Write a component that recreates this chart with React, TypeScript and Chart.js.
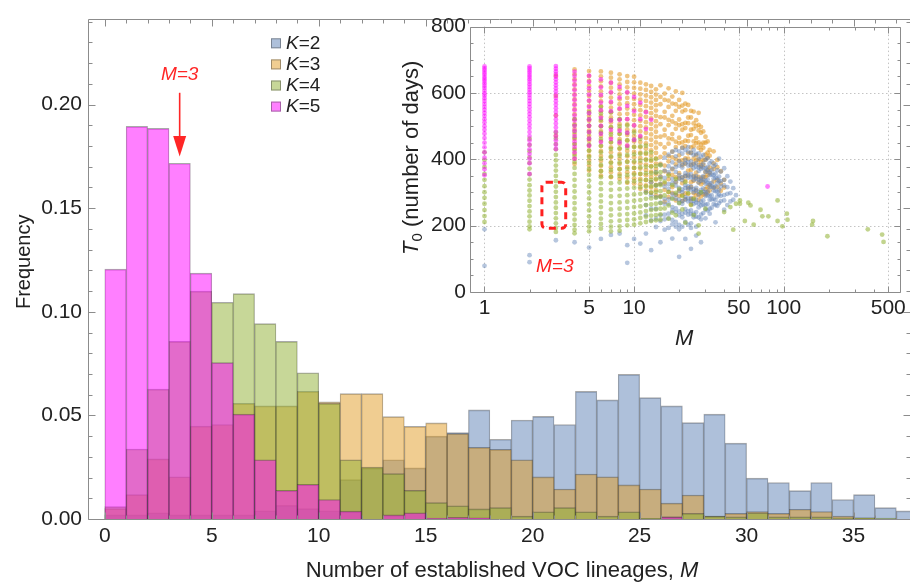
import React, { useEffect, useRef } from 'react';
import { Chart, registerables } from 'chart.js';

Chart.register(...registerables);

const FONT = '"Liberation Sans", Arial, Helvetica, sans-serif';

// ---------- Main histogram data (bin [M, M+1)) ----------
const binStarts = [0, 1, 2, 3, 4, 5, 6, 7, 8, 9, 10, 11, 12, 13, 14, 15, 16, 17, 18, 19, 20, 21, 22, 23, 24, 25, 26, 27, 28, 29, 30, 31, 32, 33, 34, 35, 36, 37];
const freqK2 = [0.002, 0.002, 0.003, 0.002, 0.002, 0.002, 0.002, 0.004, 0.0066, 0.005, 0.004, 0.019, 0.0245, 0.0286, 0.0247, 0.040, 0.0417, 0.0527, 0.0385, 0.0478, 0.0495, 0.0456, 0.0616, 0.0575, 0.0698, 0.0586, 0.0546, 0.0465, 0.0506, 0.0366, 0.0197, 0.0176, 0.0137, 0.0176, 0.0094, 0.0118, 0.0055, 0.0039];
const freqK3 = [0.005, 0.0118, 0.029, 0.0204, 0.0448, 0.0456, 0.0558, 0.0546, 0.0546, 0.0616, 0.0566, 0.0605, 0.0605, 0.0494, 0.0447, 0.0464, 0.0412, 0.0346, 0.0336, 0.0286, 0.0203, 0.0145, 0.0217, 0.0204, 0.0165, 0.0145, 0.0077, 0.0116, 0.0014, 0.0027, 0.0036, 0.0027, 0.0047, 0.0036, 0.0014, 0.0006, 0, 0];
const freqK4 = [0.006, 0.0338, 0.0627, 0.0857, 0.110, 0.1046, 0.1088, 0.0943, 0.0857, 0.0706, 0.0558, 0.0286, 0.025, 0.0219, 0.0138, 0.0079, 0.0064, 0.0049, 0.0055, 0.0014, 0.0035, 0.0055, 0.0035, 0.0014, 0.0035, 0.0003, 0.001, 0.0027, 0.0014, 0.001, 0.003, 0.001, 0.001, 0.001, 0.0005, 0.0006, 0.0005, 0];
const freqK5 = [0.1206, 0.1895, 0.1885, 0.1717, 0.1187, 0.0755, 0.0506, 0.0286, 0.0138, 0.0167, 0.0094, 0.0038, 0, 0.002, 0.003, 0.0005, 0.0008, 0.0006, 0, 0, 0, 0, 0, 0, 0, 0, 0.001, 0, 0, 0, 0, 0, 0, 0, 0, 0, 0, 0];

const seriesLabels = ['K=2', 'K=3', 'K=4', 'K=5'];
const barColors = ['rgba(94,129,181,0.5)', 'rgba(225,156,36,0.5)', 'rgba(143,176,50,0.5)', 'rgba(255,0,255,0.5)'];
const pointColors = ['rgba(94,129,181,0.45)', 'rgba(225,150,30,0.55)', 'rgba(143,176,50,0.55)', 'rgba(255,0,255,0.5)'];
const pointOrder = [3, 4, 2, 1];

const mainXTicks = [0, 5, 10, 15, 20, 25, 30, 35];
const mainYTicks = [0, 0.05, 0.1, 0.15, 0.2];
const mainXRange = [-0.785, 37.64];
const mainYRange = [0, 0.2415];

// annotation anchors (data units)
const mainNoteM = 3.5;
const mainNoteTextY = 0.2146;
const mainArrowTailY = 0.2057;
const mainArrowBaseY = 0.1849;
const mainArrowTipY = 0.175;

// ---------- Inset scatter data: [M, T0 values] ----------
const insetK2: [number, number[]][] = [
  [1, [189, 79]], [2, [111, 90]], [3, [156]], [4, [150]], [5, [134]], [6, [160]], [7, [172]], [8, [176]], [9, [88, 141]], [10, [160]], [11, [146]],
  [12, [301, 262, 231, 176]],
  [13, [331, 291, 251, 216, 126]],
  [14, [361, 321, 286, 251, 221, 196]],
  [15, [383, 347, 326, 288, 269, 231, 214, 150]],
  [16, [405, 366, 344, 318, 281, 266, 233, 219, 188]],
  [17, [414, 379, 361, 325, 311, 279, 266, 236, 222, 193]],
  [18, [423, 391, 372, 341, 328, 296, 284, 256, 245, 217, 204, 161]],
  [19, [428, 409, 377, 362, 333, 321, 293, 281, 252, 241, 211, 197]],
  [20, [424, 394, 381, 352, 341, 314, 304, 278, 269, 243, 231, 202, 189, 106]],
  [21, [434, 417, 386, 375, 346, 337, 309, 301, 274, 266, 236, 225, 197]],
  [22, [428, 398, 388, 358, 349, 322, 313, 286, 278, 250, 239, 211, 160]],
  [23, [437, 423, 392, 381, 354, 345, 318, 309, 282, 273, 244, 233, 203]],
  [24, [419, 393, 381, 355, 345, 318, 309, 283, 273, 246, 235, 207, 193, 130]],
  [25, [428, 413, 385, 373, 347, 337, 310, 301, 275, 265, 236, 225]],
  [26, [416, 389, 377, 350, 341, 314, 305, 278, 269, 241, 227, 197, 170]],
  [27, [418, 402, 376, 365, 339, 329, 302, 293, 267, 255, 225]],
  [28, [408, 381, 371, 345, 335, 308, 299, 273, 261, 233, 219, 150]],
  [29, [413, 387, 374, 349, 337, 312, 301, 276, 263, 238]],
  [30, [399, 373, 362, 336, 326, 301, 289, 263, 249, 222]],
  [31, [403, 377, 364, 339, 328, 303, 291, 265, 246]],
  [32, [388, 363, 352, 327, 316, 290, 278, 251, 236]],
  [33, [393, 367, 354, 329, 318, 292, 279, 254]],
  [34, [379, 353, 342, 317, 306, 281, 265]],
  [35, [384, 357, 344, 318, 304, 277, 262, 210]],
  [36, [367, 342, 328, 302, 288, 260]],
  [37, [402, 348, 334, 308, 294, 268]],
  [38, [363, 334, 318, 290, 274]],
  [40, [373, 338, 321, 292, 276, 248]],
  [42, [349, 316, 296, 262]],
  [44, [333, 298, 273]],
  [46, [313, 278]],
  [48, [292]],
];

const insetK3: [number, number[]][] = [
  [3, [652, 591, 532, 471]],
  [4, [671, 656, 641, 626, 611, 596, 581, 566, 551, 536, 521, 506, 491, 476, 461, 446, 431, 416, 401, 386]],
  [5, [666, 651, 636, 621, 606, 591, 576, 561, 546, 531, 516, 501, 486, 471, 456, 441, 426, 411, 396, 381, 366]],
  [6, [665, 650, 635, 620, 605, 590, 575, 560, 545, 530, 515, 500, 485, 470, 455, 440, 425, 410, 395, 380, 365, 351]],
  [7, [661, 646, 631, 616, 601, 586, 571, 556, 541, 526, 511, 496, 481, 466, 451, 436, 421, 406, 391, 376, 361, 346]],
  [8, [656, 641, 626, 611, 596, 581, 566, 551, 536, 521, 506, 491, 476, 461, 446, 431, 416, 401, 386, 371, 356, 341]],
  [9, [651, 633, 617, 601, 585, 569, 553, 537, 521, 505, 489, 473, 457, 441, 425, 409, 393, 377, 361, 345, 329]],
  [10, [649, 632, 615, 598, 582, 566, 550, 534, 518, 502, 486, 470, 454, 438, 422, 406, 390, 374, 358, 342, 327]],
  [11, [631, 613, 596, 580, 564, 548, 532, 516, 500, 484, 468, 452, 436, 420, 404, 388, 372, 356, 341, 325, 311]],
  [12, [626, 609, 592, 576, 560, 544, 528, 512, 496, 480, 464, 448, 432, 416, 400, 384, 368, 352, 337, 321, 305]],
  [13, [621, 603, 587, 571, 555, 539, 523, 507, 491, 475, 459, 443, 427, 411, 395, 379, 363, 347, 331, 315, 299]],
  [14, [611, 595, 579, 563, 547, 531, 515, 499, 483, 467, 451, 435, 419, 403, 387, 371, 355, 339, 323, 307, 291]],
  [15, [623, 588, 566, 527, 506, 468, 446, 407, 386, 348, 326, 289]],
  [16, [598, 579, 543, 526, 489, 472, 436, 418, 381, 364, 327, 308, 272]],
  [17, [614, 577, 558, 519, 503, 463, 447, 409, 394, 355, 340, 301, 286]],
  [18, [589, 568, 531, 514, 476, 461, 423, 406, 370, 353, 316, 299]],
  [19, [605, 566, 546, 508, 492, 453, 437, 400, 385, 346, 331, 293, 276]],
  [20, [579, 558, 520, 503, 465, 449, 412, 396, 358, 343, 306, 290]],
  [21, [600, 562, 544, 506, 489, 451, 435, 397, 382, 345, 328, 292, 274]],
  [22, [568, 548, 510, 494, 456, 440, 403, 387, 350, 335, 297, 280]],
  [23, [564, 526, 509, 471, 455, 418, 402, 366, 351, 313, 296]],
  [24, [546, 526, 489, 473, 436, 420, 383, 368, 331, 316, 280, 264]],
  [25, [544, 508, 492, 454, 439, 402, 387, 350, 335, 298, 282]],
  [26, [518, 500, 464, 449, 412, 397, 360, 345, 308, 292]],
  [27, [540, 504, 487, 451, 435, 399, 383, 347, 331, 295, 278]],
  [28, [498, 480, 444, 428, 392, 377, 340, 325, 288]],
  [29, [484, 450, 435, 398, 383, 346, 331, 294]],
  [30, [468, 450, 414, 399, 362, 347, 310, 294]],
  [31, [454, 420, 405, 368, 352, 316, 300]],
  [32, [428, 411, 375, 359, 322, 306]],
  [34, [424, 388, 371, 333, 314]],
  [36, [398, 376, 337, 316]],
  [38, [364, 327, 305]],
  [40, [338, 315]],
];

const insetK4: [number, number[]][] = [
  [1, [421, 398, 377, 356, 338, 319, 301, 284, 266, 247, 229, 211]],
  [2, [462, 443, 424, 406, 389, 372, 355, 339, 322, 306, 291, 275, 259, 243, 228, 212, 198, 189]],
  [3, [481, 463, 446, 430, 413, 397, 381, 366, 350, 334, 318, 302, 286, 270, 254, 238, 222, 207, 193, 181]],
  [4, [521, 502, 483, 465, 446, 428, 410, 392, 374, 356, 338, 320, 303, 285, 268, 251, 234, 218, 202, 188, 177]],
  [5, [541, 521, 501, 481, 462, 444, 426, 407, 389, 371, 353, 336, 318, 300, 282, 264, 246, 228, 211, 197, 183]],
  [6, [558, 538, 519, 499, 480, 461, 441, 421, 402, 383, 364, 346, 328, 310, 291, 273, 256, 238, 221, 205, 191]],
  [7, [542, 519, 497, 475, 452, 431, 409, 389, 368, 348, 328, 308, 288, 268, 249, 231, 213, 197, 183]],
  [8, [521, 499, 477, 455, 433, 411, 390, 370, 350, 330, 310, 290, 270, 251, 233, 215, 198, 185]],
  [9, [502, 479, 457, 435, 413, 392, 372, 352, 332, 312, 292, 272, 253, 235, 217, 201]],
  [10, [481, 459, 437, 415, 394, 374, 354, 334, 314, 294, 275, 256, 237, 219, 203]],
  [11, [462, 439, 417, 396, 376, 356, 336, 316, 296, 277, 258, 240, 223, 207]],
  [12, [441, 419, 398, 378, 358, 338, 318, 299, 281, 262, 244, 227, 211]],
  [13, [421, 399, 378, 358, 338, 319, 300, 282, 264, 247, 230, 214]],
  [14, [401, 380, 360, 341, 321, 302, 284, 266, 249, 232, 216]],
  [15, [382, 361, 341, 322, 304, 286, 268, 251, 234, 218]],
  [16, [332, 291, 252]], [17, [351, 302, 261, 221]], [18, [322, 281, 239]], [19, [341, 299, 231]],
  [20, [311, 268]], [21, [289, 249]], [22, [331, 209]], [23, [298]], [24, [262]], [25, [281, 232]],
  [27, [176, 201]], [28, [301]], [30, [251]], [40, [241]], [44, [256]], [46, [188]], [48, [266]],
  [51, [276, 266]], [55, [214]], [58, [269]], [60, [261]], [63, [203]], [70, [248]], [72, [228]],
  [79, [228]], [91, [276, 214]], [98, [198]], [105, [236]], [106, [218]], [155, [203]], [157, [214]],
  [196, [168]], [365, [189]], [455, [173]], [465, [151]],
];

const insetK5: [number, number[]][] = [
  [1, [680, 674, 668, 661, 655, 648, 642, 636, 629, 622, 615, 607, 599, 592, 584, 576, 567, 558, 549, 540, 531, 521, 511, 500, 489, 477, 464, 450, 436, 421, 405, 388, 370, 352]],
  [2, [680, 674, 667, 661, 654, 648, 641, 634, 626, 618, 610, 602, 594, 585, 576, 567, 557, 547, 537, 527, 516, 505, 494, 482, 470, 457, 444, 430, 416, 402, 388, 356]],
  [3, [681, 673, 665, 657, 649, 641, 632, 623, 614, 605, 595, 585, 575, 565, 554, 543, 532, 520, 508, 496, 483, 470, 457, 444, 431]],
  [4, [664, 651, 637, 623, 608, 593, 578, 563, 548, 532, 517, 501, 486, 470, 454, 438, 421, 402]],
  [5, [652, 633, 614, 595, 577, 558, 539, 520, 501, 482, 462, 441]],
  [6, [641, 617, 594, 571, 548, 525, 501, 477, 452]],
  [7, [631, 602, 573, 545, 517, 489, 461]],
  [8, [618, 586, 553, 519, 486, 451]],
  [9, [602, 561, 521, 480, 441]],
  [10, [588, 545, 502, 459]],
  [11, [571, 521, 470]],
  [12, [542, 491]],
  [13, [519]],
  [78, [318]],
];

const insetXTicks = [1, 5, 10, 50, 100, 500];
const insetXMinor = [2, 3, 4, 6, 7, 8, 9, 20, 30, 40, 60, 70, 80, 90, 200, 300, 400];
const insetYTicks = [0, 200, 400, 600, 800];
const insetXRange = [0.8, 600];
const insetYRange = [0, 800];
const insetBoxM = [2.42, 3.49];
const insetBoxT = [192, 331];
const insetNote = [2.95, 75];

// ---------- helpers ----------
type Part = { t: string; i?: boolean; sub?: boolean };
const fontFor = (p: Part, size: number) => `${p.i ? 'italic ' : ''}${p.sub ? Math.round(size * 0.68) : size}px ${FONT}`;

function drawRich(ctx: CanvasRenderingContext2D, parts: Part[], x: number, y: number, size: number, align: 'center' | 'left') {
  const widths = parts.map((p) => {
    ctx.font = fontFor(p, size);
    return ctx.measureText(p.t).width;
  });
  const total = widths.reduce((a, b) => a + b, 0);
  let cx = align === 'center' ? x - total / 2 : x;
  ctx.textAlign = 'left';
  ctx.textBaseline = 'middle';
  parts.forEach((p, k) => {
    ctx.font = fontFor(p, size);
    ctx.fillText(p.t, cx, p.sub ? y + size * 0.28 : y);
    cx += widths[k];
  });
}

function drawFrameTicks(chart: any, xMajor: number[], xMinor: number[], yMajor: number[], yMinor: number[], majLen: number, minLen: number) {
  const { ctx, chartArea: a, scales } = chart;
  const xs = scales.x;
  const ys = scales.y;
  ctx.save();
  ctx.strokeStyle = '#8c8c8c';
  ctx.lineWidth = 1;
  const L = Math.round(a.left) + 0.5;
  const R = Math.round(a.right) + 0.5;
  const T = Math.round(a.top) + 0.5;
  const B = Math.round(a.bottom) + 0.5;
  ctx.beginPath();
  ctx.rect(L, T, R - L, B - T);
  const tickX = (v: number, len: number) => {
    const px = Math.round(xs.getPixelForValue(v)) + 0.5;
    if (px < L || px > R) return;
    ctx.moveTo(px, B);
    ctx.lineTo(px, B - len);
    ctx.moveTo(px, T);
    ctx.lineTo(px, T + len);
  };
  const tickY = (v: number, len: number) => {
    const py = Math.round(ys.getPixelForValue(v)) + 0.5;
    if (py < T - 0.1 || py > B + 0.1) return;
    ctx.moveTo(L, py);
    ctx.lineTo(L + len, py);
    ctx.moveTo(R, py);
    ctx.lineTo(R - len, py);
  };
  xMajor.forEach((v) => tickX(v, majLen));
  xMinor.forEach((v) => tickX(v, minLen));
  yMajor.forEach((v) => tickY(v, majLen));
  yMinor.forEach((v) => tickY(v, minLen));
  ctx.stroke();
  ctx.restore();
}

const mainDecor = {
  id: 'mainDecor',
  afterDraw(chart: any) {
    const { ctx, chartArea: a, scales } = chart;
    const xs = scales.x;
    const ys = scales.y;
    const xMinor: number[] = [];
    for (let v = 0; v <= 38; v++) if (v % 5 !== 0) xMinor.push(v);
    const yMinor: number[] = [];
    for (let k = 0; k <= 24; k++) if (k % 5 !== 0) yMinor.push(k / 100);
    drawFrameTicks(chart, mainXTicks, xMinor, mainYTicks, yMinor, 7, 4);

    ctx.save();
    // legend
    seriesLabels.forEach((lab, i) => {
      const cy = 43.3 + 21.1 * i;
      ctx.fillStyle = '#fff';
      ctx.fillRect(271, cy - 5, 10, 10);
      ctx.fillStyle = barColors[i];
      ctx.fillRect(271, cy - 5, 10, 10);
      ctx.strokeStyle = 'rgba(60,60,60,0.45)';
      ctx.lineWidth = 1;
      ctx.strokeRect(271.5, cy - 4.5, 9, 9);
      ctx.fillStyle = '#222';
      const [k, rest] = [lab.slice(0, 1), lab.slice(1)];
      drawRich(ctx, [{ t: k, i: true }, { t: rest }], 286, cy, 19, 'left');
    });

    // red arrow + note
    const ax = xs.getPixelForValue(mainNoteM);
    const yTail = ys.getPixelForValue(mainArrowTailY);
    const yBase = ys.getPixelForValue(mainArrowBaseY);
    const yTip = ys.getPixelForValue(mainArrowTipY);
    ctx.strokeStyle = '#ff2626';
    ctx.fillStyle = '#ff2626';
    ctx.lineWidth = 1.6;
    ctx.beginPath();
    ctx.moveTo(ax, yTail);
    ctx.lineTo(ax, yBase + 1);
    ctx.stroke();
    ctx.beginPath();
    ctx.moveTo(ax - 6.5, yBase);
    ctx.lineTo(ax + 6.5, yBase);
    ctx.lineTo(ax, yTip);
    ctx.closePath();
    ctx.fill();
    drawRich(ctx, [{ t: 'M=3', i: true }], ax, ys.getPixelForValue(mainNoteTextY), 19, 'center');

    // axis titles
    ctx.fillStyle = '#222';
    drawRich(ctx, [{ t: 'Number of established VOC lineages, ' }, { t: 'M', i: true }], (a.left + a.right) / 2 + 3, a.bottom + 52, 22, 'center');
    ctx.save();
    ctx.translate(a.left - 64, (a.top + a.bottom) / 2 - 7);
    ctx.rotate(-Math.PI / 2);
    drawRich(ctx, [{ t: 'Frequency' }], 0, 0, 20, 'center');
    ctx.restore();
    ctx.restore();
  },
};

const insetDecor = {
  id: 'insetDecor',
  beforeDatasetsDraw(chart: any) {
    const { ctx, chartArea: a, scales } = chart;
    ctx.save();
    ctx.strokeStyle = '#c4c4c4';
    ctx.lineWidth = 1;
    ctx.setLineDash([1.5, 2.5]);
    ctx.beginPath();
    insetXTicks.forEach((v) => {
      const px = Math.round(scales.x.getPixelForValue(v)) + 0.5;
      ctx.moveTo(px, a.top);
      ctx.lineTo(px, a.bottom);
    });
    [200, 400, 600].forEach((v) => {
      const py = Math.round(scales.y.getPixelForValue(v)) + 0.5;
      ctx.moveTo(a.left, py);
      ctx.lineTo(a.right, py);
    });
    ctx.stroke();
    ctx.restore();
  },
  afterDraw(chart: any) {
    const { ctx, chartArea: a, scales } = chart;
    const yMinor: number[] = [];
    for (let v = 50; v < 800; v += 50) if (v % 200 !== 0) yMinor.push(v);
    drawFrameTicks(chart, insetXTicks, insetXMinor, insetYTicks, yMinor, 6, 3);
    ctx.save();
    // dashed box around M=3
    const x0 = scales.x.getPixelForValue(insetBoxM[0]);
    const x1 = scales.x.getPixelForValue(insetBoxM[1]);
    const y0 = scales.y.getPixelForValue(insetBoxT[1]);
    const y1 = scales.y.getPixelForValue(insetBoxT[0]);
    ctx.strokeStyle = '#ff2020';
    ctx.lineWidth = 3;
    ctx.setLineDash([7, 5]);
    ctx.beginPath();
    (ctx as any).roundRect ? (ctx as any).roundRect(x0, y0, x1 - x0, y1 - y0, 4) : ctx.rect(x0, y0, x1 - x0, y1 - y0);
    ctx.stroke();
    ctx.setLineDash([]);
    ctx.fillStyle = '#ff2020';
    drawRich(ctx, [{ t: 'M=3', i: true }], scales.x.getPixelForValue(insetNote[0]), scales.y.getPixelForValue(insetNote[1]), 19, 'center');
    // axis titles
    ctx.fillStyle = '#222';
    drawRich(ctx, [{ t: 'M', i: true }], (a.left + a.right) / 2 - 1, a.bottom + 47, 22, 'center');
    ctx.save();
    ctx.translate(a.left - 58, (a.top + a.bottom) / 2 - 1.5);
    ctx.rotate(-Math.PI / 2);
    drawRich(ctx, [{ t: 'T', i: true }, { t: '0', sub: true }, { t: ' (number of days)' }], 0, 0, 22, 'center');
    ctx.restore();
    ctx.restore();
  },
};

const toPoints = (cols: [number, number[]][]) => cols.flatMap(([m, ts]) => ts.map((t) => ({ x: m, y: t })));

export default function App() {
  const mainRef = useRef<HTMLCanvasElement>(null);
  const insetRef = useRef<HTMLCanvasElement>(null);

  useEffect(() => {
    document.body.style.margin = '0';
    const freqs = [freqK2, freqK3, freqK4, freqK5];
    const main = new Chart(mainRef.current!, {
      type: 'bar',
      data: {
        datasets: freqs.map((f, i) => ({
          label: seriesLabels[i],
          data: binStarts.map((b, j) => ({ x: b + 0.5, y: f[j] })),
          backgroundColor: barColors[i],
          borderColor: 'rgba(40,40,40,0.4)',
          borderWidth: { top: 1, left: 0.6, right: 0.6, bottom: 0 },
          borderSkipped: 'start',
          order: 4 - i,
        })),
      },
      options: {
        responsive: false,
        animation: false,
        devicePixelRatio: 1,
        datasets: { bar: { grouped: false, barPercentage: 1, categoryPercentage: 1 } },
        layout: { padding: { top: 7, right: 0, left: 0, bottom: 0 } },
        plugins: { legend: { display: false }, tooltip: { enabled: false } },
        scales: {
          x: {
            type: 'linear',
            min: mainXRange[0],
            max: mainXRange[1],
            offset: false,
            grid: { display: false, drawTicks: false },
            border: { display: false },
            afterBuildTicks: (s: any) => { s.ticks = mainXTicks.map((v) => ({ value: v })); },
            afterFit: (s: any) => { s.height = 64; },
            ticks: { autoSkip: false, maxRotation: 0, padding: 5, color: '#222', font: { family: FONT, size: 21 }, callback: (v: any) => String(v) },
          },
          y: {
            type: 'linear',
            min: mainYRange[0],
            max: mainYRange[1],
            grid: { display: false, drawTicks: false },
            border: { display: false },
            afterBuildTicks: (s: any) => { s.ticks = mainYTicks.map((v) => ({ value: v })); },
            afterFit: (s: any) => { s.width = 88; },
            ticks: { padding: 6, color: '#222', font: { family: FONT, size: 21 }, callback: (v: any) => Number(v).toFixed(2) },
          },
        },
      },
      plugins: [mainDecor],
    } as any);

    const cols = [insetK2, insetK3, insetK4, insetK5];
    const inset = new Chart(insetRef.current!, {
      type: 'scatter',
      data: {
        datasets: cols.map((c, i) => ({
          label: seriesLabels[i],
          data: toPoints(c),
          backgroundColor: pointColors[i],
          pointRadius: 2.4,
          pointBorderWidth: 0,
          borderWidth: 0,
          order: pointOrder[i],
        })),
      },
      options: {
        responsive: false,
        animation: false,
        devicePixelRatio: 1,
        layout: { padding: { top: 15, right: 8, left: 0, bottom: 0 } },
        plugins: { legend: { display: false }, tooltip: { enabled: false } },
        scales: {
          x: {
            type: 'logarithmic',
            min: insetXRange[0],
            max: insetXRange[1],
            grid: { display: false, drawTicks: false },
            border: { display: false },
            afterBuildTicks: (s: any) => { s.ticks = insetXTicks.map((v) => ({ value: v })); },
            afterFit: (s: any) => { s.height = 63; },
            ticks: { autoSkip: false, maxRotation: 0, padding: 4, color: '#222', font: { family: FONT, size: 21 }, callback: (v: any) => String(v) },
          },
          y: {
            type: 'linear',
            min: insetYRange[0],
            max: insetYRange[1],
            grid: { display: false, drawTicks: false },
            border: { display: false },
            afterBuildTicks: (s: any) => { s.ticks = insetYTicks.map((v) => ({ value: v })); },
            afterFit: (s: any) => { s.width = 75; },
            ticks: { padding: 4, color: '#222', font: { family: FONT, size: 21 }, callback: (v: any) => String(v) },
          },
        },
      },
      plugins: [insetDecor],
    } as any);

    return () => {
      main.destroy();
      inset.destroy();
    };
  }, []);

  return (
    <div style={{ position: 'fixed', left: 0, top: 0, width: 910, height: 583, background: '#fff', overflow: 'hidden' }}>
      <canvas ref={mainRef} width={910} height={583} style={{ position: 'absolute', left: 0, top: 0, width: 910, height: 583 }} />
      <canvas ref={insetRef} width={515} height={345} style={{ position: 'absolute', left: 395, top: 10, width: 515, height: 345 }} />
    </div>
  );
}
